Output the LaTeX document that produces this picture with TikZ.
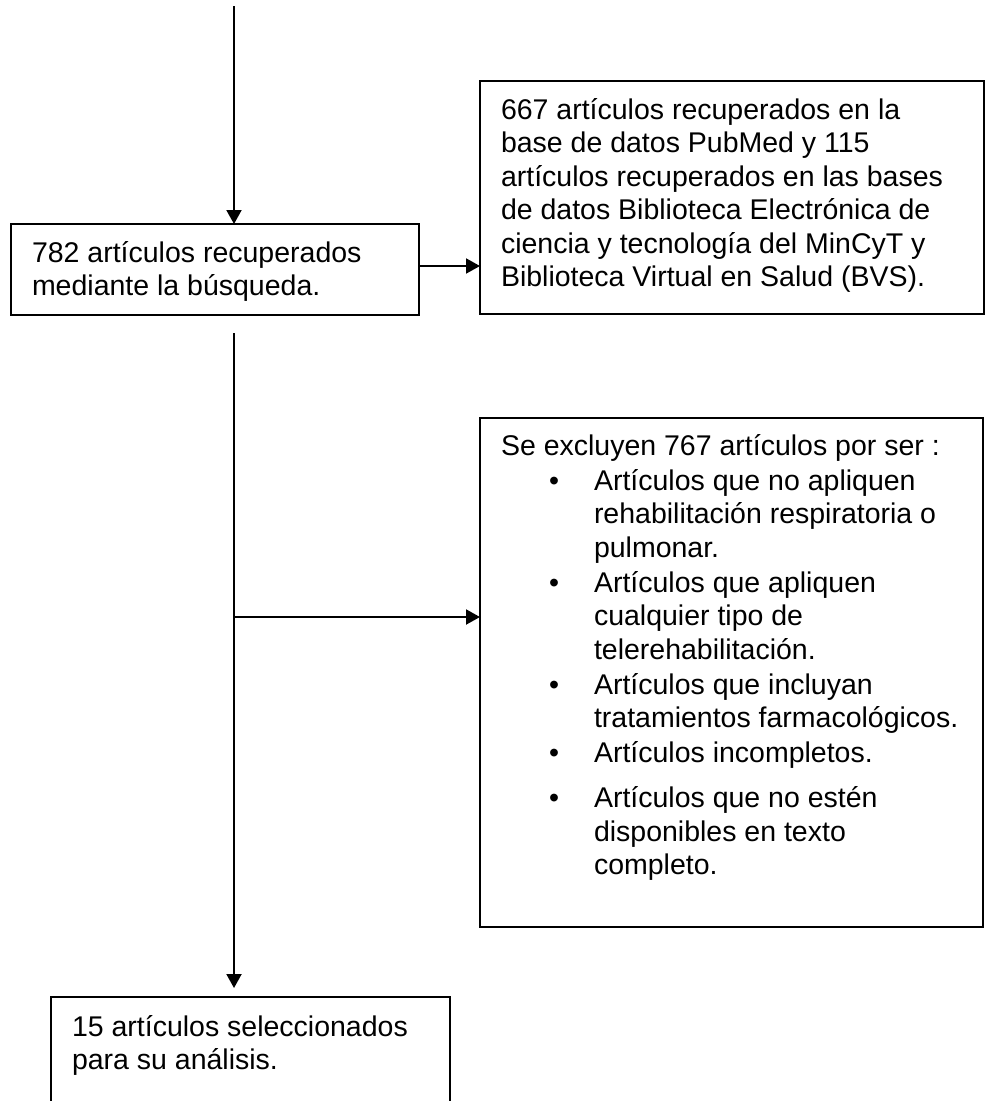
\documentclass[tikz,border=0pt]{standalone}
\usepackage{fontspec}
\setmainfont{Liberation Sans}
\usetikzlibrary{arrows.meta}
\begin{document}
\begin{tikzpicture}[x=1pt,y=-1pt,
  box/.style={draw, line width=2pt, rectangle, inner sep=0pt, outer sep=0pt, anchor=north west},
  txt/.style={anchor=base west, inner sep=0pt, outer sep=0pt, font=\fontsize{28.5}{33.5}\selectfont},
  arr/.style={line width=2pt, -{Triangle[length=14pt,width=15pt]}}]
\useasboundingbox (0,0) rectangle (1005,1101);
\clip (0,0) rectangle (1005,1101);
% boxes
\node[box, minimum width=408pt, minimum height=91pt] (b0) at (11,224) {};
\node[box, minimum width=504pt, minimum height=233pt] (b1) at (480,81) {};
\node[box, minimum width=503pt, minimum height=509pt] (b2) at (480,418) {};
\node[box, minimum width=399pt, minimum height=200pt] (b3) at (51,997) {};
% texts
\node[txt] (t0) at (32,262) {\parbox[t]{385pt}{\raggedright 782 artículos recuperados\\mediante la búsqueda.}};
\node[txt] (t1) at (501,119) {\parbox[t]{480pt}{\raggedright 667 artículos recuperados en la\\base de datos PubMed y 115\\artículos recuperados en las bases\\de datos Biblioteca Electrónica de\\ciencia y tecnología del MinCyT y\\Biblioteca Virtual en Salud (BVS).}};
\node[txt] (t2) at (501,455) {\parbox[t]{480pt}{\raggedright Se excluyen 767 artículos por ser :\par
\leftskip=93pt \parskip=1.5pt
\leavevmode\llap{\textbullet\hspace{35pt}}Artículos que no apliquen\\rehabilitación respiratoria o\\pulmonar.\par
\leavevmode\llap{\textbullet\hspace{35pt}}Artículos que apliquen\\cualquier tipo de\\telerehabilitación.\par
\leavevmode\llap{\textbullet\hspace{35pt}}Artículos que incluyan\\tratamientos farmacológicos.\par
\leavevmode\llap{\textbullet\hspace{35pt}}Artículos incompletos.\par
\vspace{10pt}
\leavevmode\llap{\textbullet\hspace{35pt}}Artículos que no estén\\disponibles en texto\\completo.}};
\node[txt] (t3) at (72,1036) {\parbox[t]{370pt}{\raggedright 15 artículos seleccionados\\para su análisis.}};
% connectors
\coordinate (s0) at (234,6);
\draw[arr] (s0) -- (s0 |- b0.north);
\draw[arr] ([yshift=3.5pt]b0.east) -- ([yshift=3.5pt]b0.east -| b1.west);
\coordinate (s1) at (234,333);
\draw[arr] (s1) -- ([yshift=9pt]s1 |- b3.north);
\coordinate (j) at (234,617);
\draw[arr] (j) -- (j -| b2.west);
\end{tikzpicture}
\end{document}
